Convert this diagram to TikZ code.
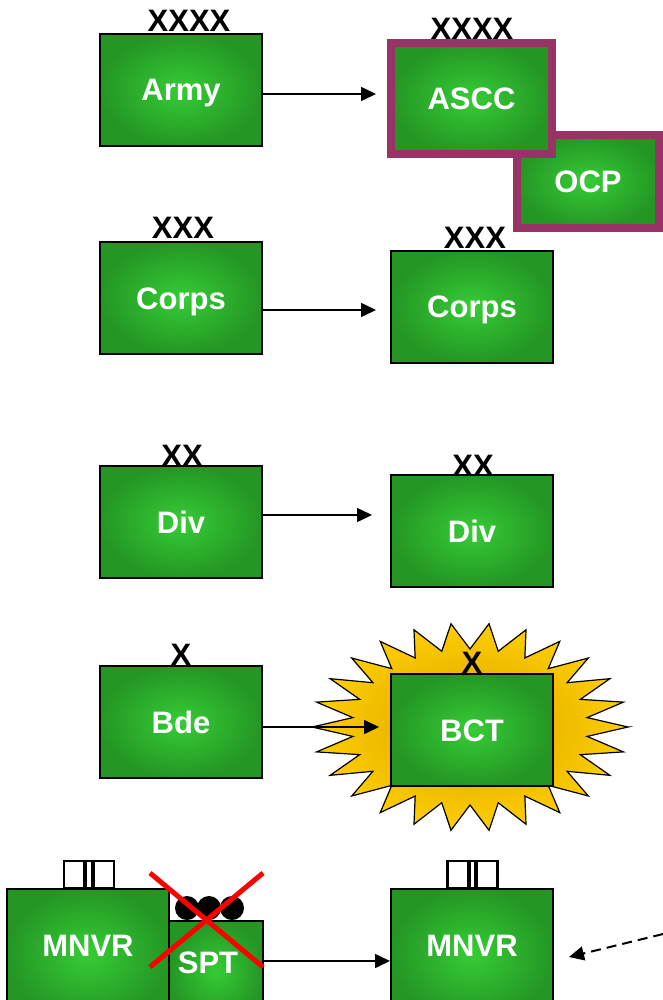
\documentclass[tikz,border=0pt]{standalone}
\usepackage{fontspec}
\setmainfont{Liberation Sans}
\usetikzlibrary{arrows.meta,calc}
\definecolor{gC}{RGB}{54,204,54}
\definecolor{gE}{RGB}{36,150,36}
\definecolor{plum}{RGB}{153,51,102}
\definecolor{goldA}{RGB}{255,206,0}
\definecolor{goldB}{RGB}{218,162,0}
\tikzset{
  unit/.style={draw=black, line width=2pt, inner color=gC, outer color=gE,
    minimum width=162pt, minimum height=112pt, inner sep=0pt, text=white,
    text height=22pt, text depth=0pt,
    font=\fontsize{31}{31}\selectfont\bfseries},
  hq/.style={unit, draw=plum, line width=8pt},
  utext/.style={text=white, inner sep=0pt, text height=22pt, text depth=0pt,
    font=\fontsize{31}{31}\selectfont\bfseries},
  ech/.style={anchor=base, inner sep=0pt, font=\fontsize{31}{31}\selectfont\bfseries},
  arr/.style={line width=1.6pt, -{Triangle[length=15pt,width=14pt]}},
  darr/.style={line width=2pt, dash pattern=on 10pt off 6pt, -{Triangle[length=15pt,width=14pt]}},
  bn/.style={draw=black, line width=2.8pt, fill=white, minimum width=50pt, minimum height=27pt, inner sep=0pt},
  bar/.style={line width=4pt},
  dot/.style={circle, fill=black, minimum size=24pt, inner sep=0pt},
  cross/.style={draw=red, line width=5pt},
  burst/.style={draw=black, line width=1.2pt, inner color=goldB, outer color=goldA}
}
\begin{document}
\begin{tikzpicture}[x=1pt,y=-1pt]
\useasboundingbox (0,0) rectangle (663,1000);
\clip (0,0) rectangle (663,1000);
% row 1
\node[unit] (army) at (181,90) {Army};
\node[hq, minimum width=142pt, minimum height=93pt] (ocp) at (588,181.5) {OCP};
\node[hq, minimum width=161pt, minimum height=111pt] (ascc) at (471.5,98.5) {ASCC};
\node[ech] (armyE) at (189,32) {XXXX};
\node[ech] (asccE) at (472,40) {XXXX};
\draw[arr, shorten >=11pt] ([yshift=-4pt]army.east) -- ([yshift=-4pt]army.east -| ascc.west);
% row 2
\node[unit] (corpsL) at (181,298) {Corps};
\node[unit] (corpsR) at (472,306.5) {Corps};
\node[ech] (corpsLE) at (183,239) {XXX};
\node[ech] (corpsRE) at (475,248) {XXX};
\draw[arr, shorten >=14pt] ([yshift=-12pt]corpsL.east) -- ([yshift=-12pt]corpsL.east -| corpsR.west);
% row 3
\node[unit] (divL) at (181,522) {Div};
\node[unit] (divR) at (472,531) {Div};
\node[ech] (divLE) at (182,466) {XX};
\node[ech] (divRE) at (473,476) {XX};
\draw[arr, shorten >=18pt] ([yshift=7pt]divL.east) -- ([yshift=7pt]divL.east -| divR.west);
% row 4
\draw[burst] plot[samples=53, domain=0:52, variable=\t]
  ({470 + (138 + 20*cos(180*\t))*cos(\t*6.923077)},
   {727 + (91 + 13*cos(180*\t))*sin(\t*6.923077)}) -- cycle;
\node[unit] (bde) at (181,722) {Bde};
\node[unit] (bct) at (472,730) {BCT};
\node[ech] (bdeE) at (181,665) {X};
\node[ech] (bctE) at (472,673) {X};
\draw[arr, shorten >=11pt] ([yshift=-5pt]bde.east) -- ([yshift=-5pt]bde.east -| bct.west);
% row 5
\node[unit, anchor=north, minimum width=162pt, minimum height=130pt] (mnvrL) at (88,888) {};
\node[utext] (mnvrLt) at (88,945) {MNVR};
\node[bn] (bnL) at (89,874.5) {};
\draw[bar] ([xshift=-4pt]bnL.north) -- ([xshift=-4pt]bnL.south)
           ([xshift=3.5pt]bnL.north) -- ([xshift=3.5pt]bnL.south);
\node[dot] (d1) at (187,908) {};
\node[dot] (d2) at (209,908) {};
\node[dot] (d3) at (232,908) {};
\node[unit, anchor=north, minimum width=94pt, minimum height=100pt] (spt) at (216,920) {};
\node[utext] (sptt) at (208,962) {SPT};
\node[unit, anchor=north, minimum width=162pt, minimum height=130pt] (mnvrR) at (472,888) {};
\node[utext] (mnvrRt) at (472,945) {MNVR};
\node[bn] (bnR) at (472.5,874.5) {};
\draw[bar] ([xshift=-4pt]bnR.north) -- ([xshift=-4pt]bnR.south)
           ([xshift=3.5pt]bnR.north) -- ([xshift=3.5pt]bnR.south);
\draw[arr] ([yshift=10pt]spt.east) -- ([yshift=10pt]spt.east -| mnvrR.west);
\coordinate (dstart) at (663,934);
\draw[darr] (dstart) -- ([shift={(15pt,-12pt)}]mnvrR.east |- mnvrRt.east);
\coordinate (xa) at (150,873);
\coordinate (xb) at (263,967);
\coordinate (xc) at (263,873);
\coordinate (xd) at (150,967);
\draw[cross] (xa) -- (xb) (xc) -- (xd);
\end{tikzpicture}
\end{document}
